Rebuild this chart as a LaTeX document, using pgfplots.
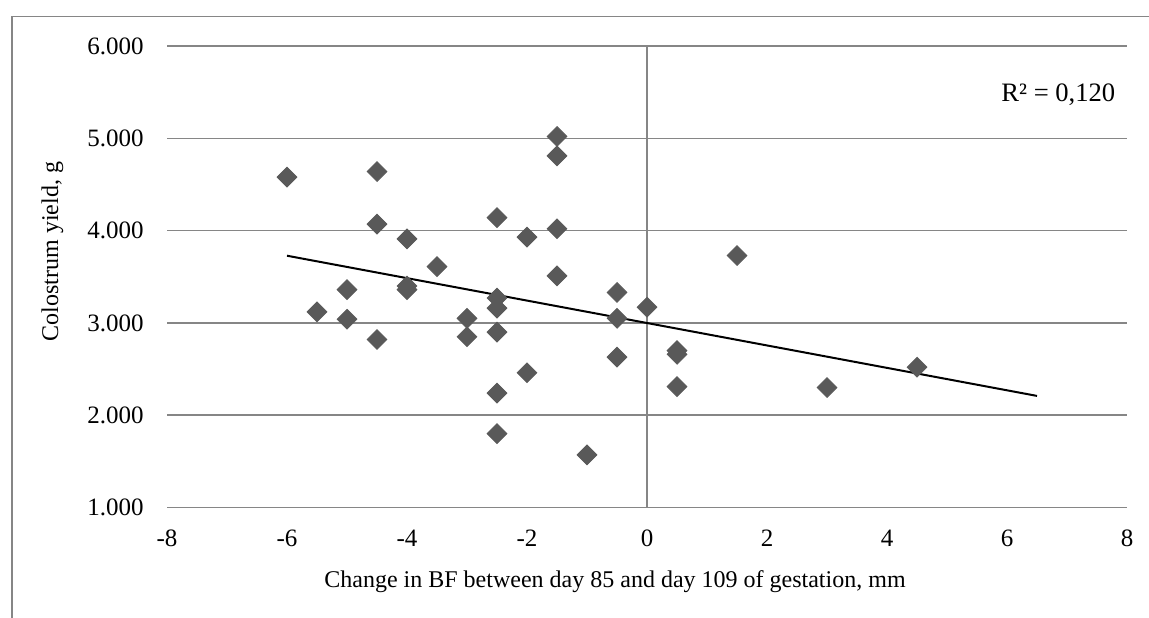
\documentclass[border=0pt]{standalone}
\usepackage{pgfplots}
\pgfplotsset{compat=1.18}
\usepackage{fontspec}
\setmainfont{Liberation Serif}
\definecolor{gridgray}{RGB}{134,134,134}
\definecolor{markgray}{RGB}{89,89,89}
\newcommand\tickfont{\fontsize{12.5pt}{15pt}\selectfont}
\newcommand\rfont{\fontsize{13.3pt}{16pt}\selectfont}
\pgfplotsset{every tick label/.append style={font=\tickfont}}
\begin{document}
\fontsize{12pt}{14pt}\selectfont
\begin{tikzpicture}
\useasboundingbox (0,0) rectangle (574.5pt,308.5pt);
\draw[gridgray, line width=0.75pt] (6pt,-50pt) -- (6pt,300.15pt) -- (700pt,300.15pt);
\begin{axis}[
  at={(83.5pt,54.75pt)}, anchor=south west,
  scale only axis, width=480pt, height=230.75pt,
  xmin=-8, xmax=8, ymin=1000, ymax=6000,
  clip=false,
  axis line style={draw=none},
  major tick length=0pt,
  xtick={-8,-6,-4,-2,0,2,4,6,8},
  xticklabels={{\tickfont -8},{\tickfont -6},{\tickfont -4},{\tickfont -2},{\tickfont 0},{\tickfont 2},{\tickfont 4},{\tickfont 6},{\tickfont 8}},
  ytick={1000,2000,3000,4000,5000,6000},
  yticklabels={{\tickfont 1.000},{\tickfont 2.000},{\tickfont 3.000},{\tickfont 4.000},{\tickfont 5.000},{\tickfont 6.000}},
  ymajorgrids,
  grid style={gridgray, line width=0.75pt},
  tick label style={inner sep=0pt},
  yticklabel style={anchor=east},
  xticklabel style={anchor=north},
  yticklabel shift=11.5pt,
  xticklabel shift=11pt,
]
\addplot[gridgray, line width=0.75pt] coordinates {(0,1000) (0,6000)};
\addplot[only marks, mark=square*, mark size=3.5pt,
  mark options={rotate=45, fill=markgray, draw=markgray}] coordinates {
(-6,4580) (-5.5,3120) (-5,3360) (-5,3040) (-4.5,4640) (-4.5,4070) (-4.5,2820)
(-4,3910) (-4,3400) (-4,3360) (-3.5,3610) (-3,3050) (-3,2850)
(-2.5,4140) (-2.5,3270) (-2.5,3160) (-2.5,2900) (-2.5,2240) (-2.5,1800)
(-2,3930) (-2,2460) (-1.5,5020) (-1.5,4810) (-1.5,4020) (-1.5,3510)
(-1,1570) (-0.5,3330) (-0.5,3050) (-0.5,2630) (0,3170)
(0.5,2700) (0.5,2660) (0.5,2310) (1.5,3730) (3,2300) (4.5,2520)
};
\addplot[black, line width=1pt] coordinates {(-6,3728) (6.5,2209)};
\end{axis}
\node[anchor=base] at (307.5pt,15pt) {Change in BF between day 85 and day 109 of gestation, mm};
\node[anchor=base, rotate=90] at (29pt,182.75pt) {Colostrum yield, g};
\node[anchor=base west, inner sep=0pt] at (500.5pt,257.5pt) {\rfont R² = 0,120};
\end{tikzpicture}
\end{document}
